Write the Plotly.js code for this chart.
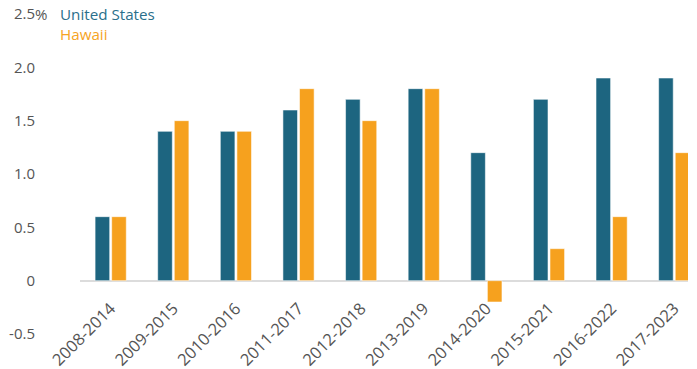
<!DOCTYPE html>
<html>
<head>
<meta charset="utf-8">
<script src="https://cdn.plot.ly/plotly-3.0.1.min.js"></script>
<style>html,body{margin:0;padding:0;background:#fff;}#chart{width:697px;height:369px;}</style>
</head>
<body>
<div id="chart"></div>
<script>
var categories = ["2008-2014","2009-2015","2010-2016","2011-2017","2012-2018","2013-2019","2014-2020","2015-2021","2016-2022","2017-2023"];
var usValues = [0.6,1.4,1.4,1.6,1.7,1.8,1.2,1.7,1.9,1.9];
var hawaiiValues = [0.6,1.5,1.4,1.8,1.5,1.8,-0.2,0.3,0.6,1.2];
var seriesNames = ["United States","Hawaii"];
var yTickVals = [-0.5,0,0.5,1.0,1.5,2.0,2.5];
var yTickText = ["-0.5","0","0.5","1.0","1.5","2.0","2.5"];

var usColor = "#1d6580";
var hiColor = "#f6a11e";
var usText = "#2a6f8b";
var hiText = "#f6a423";
var font = "Open Sans, sans-serif";

var yMin = -0.8, yMax = 2.5;

var traces = [
  {type:"bar", name:seriesNames[0], x:categories, y:usValues,
   marker:{color:usColor, line:{color:"rgba(255,255,255,0.55)", width:1}}},
  {type:"bar", name:seriesNames[1], x:categories, y:hawaiiValues,
   marker:{color:hiColor, line:{color:"rgba(255,255,255,0.55)", width:1}}}
];

var legendText = '<span style="color:' + usText + '">' + seriesNames[0] + '</span><br>' +
                 '<span style="color:' + hiText + '">' + seriesNames[1] + '</span>';

var layout = {
  width:697, height:369,
  margin:{l:80, r:9, t:14, b:3},
  paper_bgcolor:"#fff", plot_bgcolor:"#fff",
  showlegend:false,
  barmode:"group", bargap:0.47, bargroupgap:0.12,
  font:{family:font, size:15, color:"#555"},
  xaxis:{type:"category", range:[-0.49, 9.22], showgrid:false, zeroline:false, showline:false,
         ticks:"", tickangle:-45, anchor:"free", position:(0 - yMin)/(yMax - yMin), ticklabelstandoff:14,
         tickfont:{family:font, size:16.5, color:"#555"}, automargin:false, fixedrange:true},
  yaxis:{range:[yMin, yMax], tickvals:yTickVals, ticktext:yTickText, showgrid:false,
         zeroline:true, zerolinecolor:"#dcdcdc", zerolinewidth:2, showline:false, ticks:"",
         ticklabelstandoff:44, tickfont:{family:font, size:15, color:"#555"}, automargin:false},
  annotations:[
    {xref:"paper", yref:"y", x:-0.0775, y:2.5, xanchor:"left", yanchor:"middle", text:"%",
     showarrow:false, font:{family:font, size:15, color:"#555"}},
    {xref:"paper", yref:"y", x:-0.034, y:2.41, xanchor:"left", yanchor:"middle", align:"left",
     text:legendText, borderpad:0, showarrow:false, font:{family:font, size:15.2, color:usText}}
  ]
};

Plotly.newPlot("chart", traces, layout, {displayModeBar:false, staticPlot:true});
</script>
</body>
</html>
